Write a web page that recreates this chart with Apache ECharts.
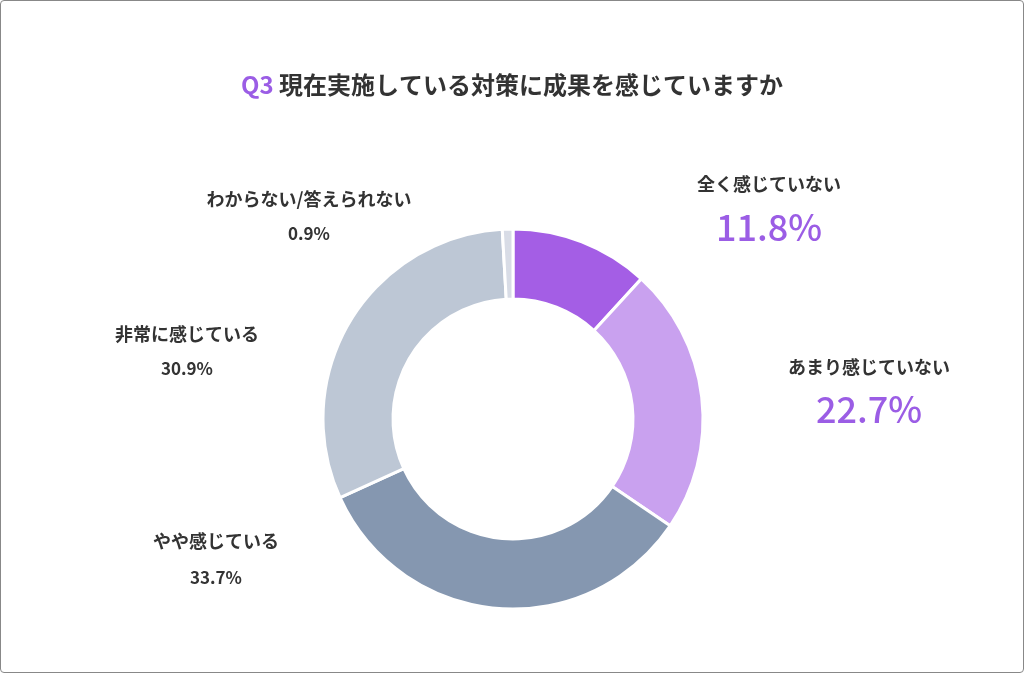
<!DOCTYPE html><html><head><meta charset="utf-8">
<script src="https://cdn.jsdelivr.net/npm/echarts@6/dist/echarts.min.js"></script>
<style>html,body{margin:0;padding:0;background:#fff}#c{width:1022px;height:671px;border:1px solid #888;border-radius:4px}</style>
</head><body><div id="c"></div><script>
const categories=['全く感じていない','あまり感じていない','やや感じている','非常に感じている','わからない/答えられない'];
const values=[11.8,22.7,33.7,30.9,0.9];
const colors=['#a45ee5','#c9a1ef','#8597b0','#bdc7d5','#d8dce6'];
const labelPos=[[768,183,226,true],[868,366,408,true],[215,540,577,false],[186,333,368,false],[308,198,233,false]];
const chart=echarts.init(document.getElementById('c'));
const F='"Noto Sans CJK JP","Noto Sans",sans-serif';
const g=[{type:'text',left:'center',top:72,style:{text:'{q|Q3} 現在実施している対策に成果を感じていますか',rich:{q:{fill:'#9b5de5',font:'bold 24px '+F}},font:'bold 24px '+F,fill:'#333'}}];
categories.forEach((c,i)=>{const p=labelPos[i];
g.push({type:'text',x:p[0],y:p[1],style:{text:c,font:'bold 18px '+F,fill:'#333',align:'center',verticalAlign:'middle'}});
g.push({type:'text',x:p[0],y:p[2],style:{text:values[i].toFixed(1)+'%',font:p[3]?'500 36px '+F:'bold 17px '+F,fill:p[3]?'#9b5de5':'#333',align:'center',verticalAlign:'middle'}});});
chart.setOption({graphic:g,series:[{type:'pie',center:[512,418],radius:[120,190],startAngle:90,clockwise:true,silent:true,label:{show:false},labelLine:{show:false},
itemStyle:{borderColor:'#fff',borderWidth:3},
data:categories.map((c,i)=>({name:c,value:values[i],itemStyle:{color:colors[i]}}))}]});
</script></body></html>
